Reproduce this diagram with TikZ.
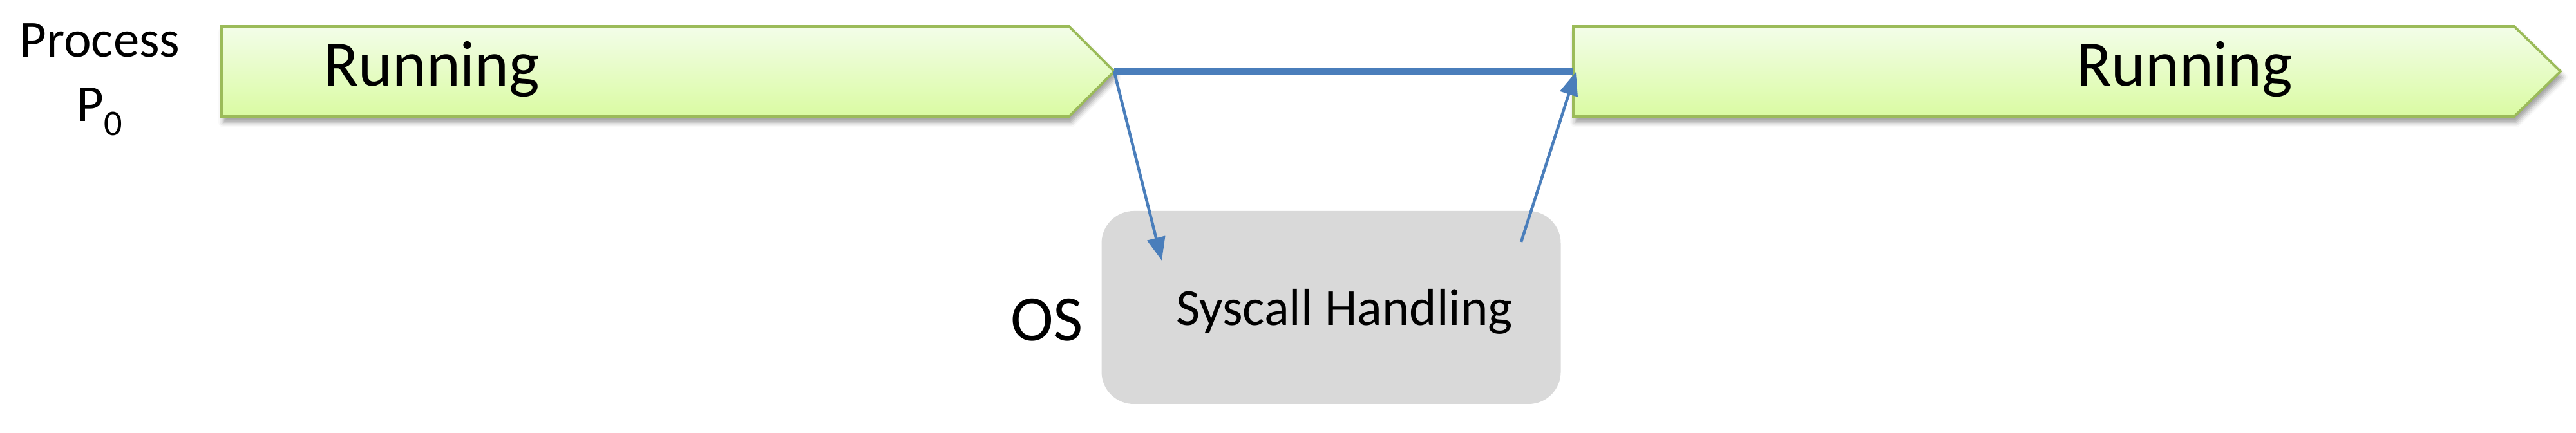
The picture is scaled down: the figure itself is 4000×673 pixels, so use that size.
\documentclass[tikz,border=0pt]{standalone}
\usepackage{fontspec}
\setmainfont{Carlito}
\usepackage{xcolor}
\usetikzlibrary{arrows.meta,shadows.blur}

\definecolor{barline}{HTML}{9BBB59}
\definecolor{bartop}{HTML}{F3FDE9}
\definecolor{barbot}{HTML}{DAFBA2}
\definecolor{flowblue}{HTML}{4A7EBB}
\definecolor{osgray}{HTML}{D9D9D9}

\begin{document}
\begin{tikzpicture}[x=0.1mm,y=-0.1mm,
    every node/.style={inner sep=0pt, outer sep=0pt},
    runbar/.style={draw=barline, line width=0.38mm, top color=bartop, bottom color=barbot,
        blur shadow={shadow xshift=0.3mm, shadow yshift=-0.9mm, shadow blur radius=0.8mm}},
    flow/.style={draw=flowblue, line width=0.45mm, -{Triangle[length=3.6mm,width=2.8mm]}},
    bigtext/.style={font=\fontsize{28.6}{34}\selectfont},
    smalltext/.style={font=\fontsize{23}{28}\selectfont}]
    \useasboundingbox (0,0) rectangle (4000,673);

    % Process label
    \node[smalltext, anchor=base] (proc) at (155,89) {Process};
    \node[smalltext, anchor=base] (pzero) at (155,189) {P\raisebox{-6pt}{\fontsize{16}{16}\selectfont 0}};

    % Running bars
    \path[runbar] (344,41) -- (1660,41) -- (1730,111) -- (1660,181) -- (344,181) -- cycle;
    \path[runbar] (2443,41) -- (3904,41) -- (3976,111) -- (3904,181) -- (2443,181) -- cycle;
    \coordinate (tipL) at (1730,111);
    \coordinate (runR) at (2443,111);
    \node[bigtext, anchor=base west] (run1) at (502,134) {Running};
    \node[bigtext, anchor=base west] (run2) at (3224,134) {Running};

    % OS box
    \node[fill=osgray, rounded corners=5mm, minimum width=71.3mm, minimum height=30mm] (sysbox) at (2067,478) {};
    \node[smalltext, anchor=base west] (sys) at (1826,506) {Syscall Handling};
    \node[bigtext, anchor=base west] (os) at (1569,530) {OS};

    % Arrows
    \coordinate (sysin) at (1804,405);
    \coordinate (sysout) at (2362,376);
    \coordinate (runRin) at (2447,112);
    \draw[flowblue, line width=1.25mm] (tipL) -- (runR);
    \draw[flow] (tipL) -- (sysin);
    \draw[flow] (sysout) -- (runRin);

\end{tikzpicture}
\end{document}
